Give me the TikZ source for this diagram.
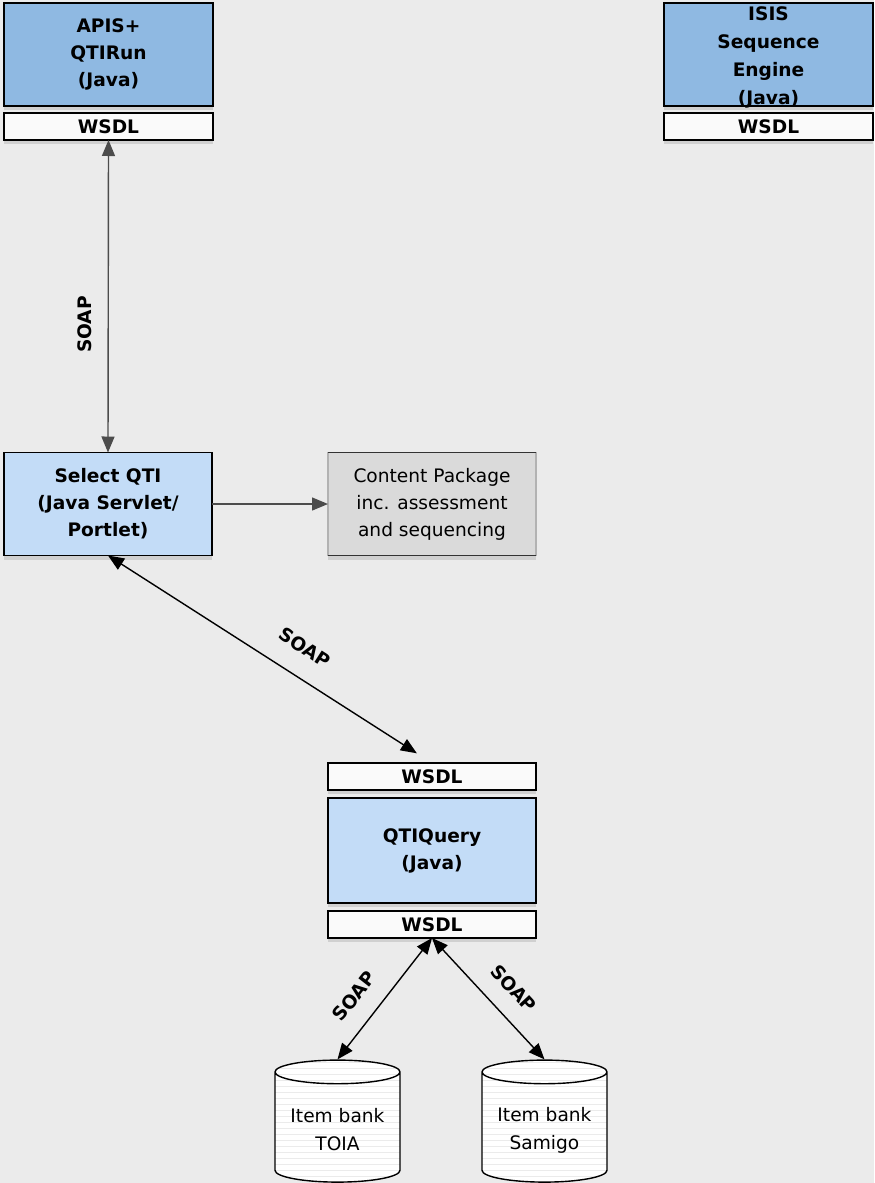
\documentclass[tikz,border=0pt]{standalone}
\usepackage{fontspec}
\setsansfont{DejaVu Sans}
\usetikzlibrary{arrows.meta,positioning,shapes.geometric,shadows,patterns}
\definecolor{bgGray}{HTML}{EBEBEB}
\definecolor{runBlue}{HTML}{8FB9E2}
\definecolor{paleBlue}{HTML}{C3DCF7}
\definecolor{pkgGray}{HTML}{DADADA}
\tikzset{%
  >={Triangle[width=6.5pt,length=8pt]},
  % Specifications for style of nodes:
          base/.style = {rectangle, draw=black, line width=0.8pt,
                         inner sep=0pt, outer sep=0pt,
                         minimum width=104.5pt, align=center,
                         font=\sffamily\bfseries\fontsize{9.3}{13.5}\selectfont,
                         drop shadow={shadow xshift=0pt, shadow yshift=-2pt, opacity=0.25}},
       service/.style = {base, minimum height=51.5pt, fill=runBlue},
        client/.style = {base, minimum height=51.5pt, minimum width=104pt, fill=paleBlue},
          wsdl/.style = {base, minimum height=13.5pt, fill=white!96!gray},
       package/.style = {base, minimum height=51.5pt, minimum width=104pt, fill=pkgGray,
                         draw=black!30, font=\sffamily\fontsize{9.3}{13.5}\selectfont},
      itembank/.style = {cylinder, shape border rotate=90, aspect=0.22, draw=black,
                         line width=0.7pt, minimum width=62.5pt, minimum height=61pt,
                         align=center, preaction={fill=white}, pattern=horizontal lines,
                         pattern color=black!8, font=\sffamily\fontsize{9.3}{14}\selectfont},
          soap/.style = {font=\sffamily\bfseries\fontsize{9.3}{11}\selectfont, inner sep=8pt},
}
\begin{document}
\begin{tikzpicture}[x=0.5pt, y=-0.5pt, line width=0.7pt]

    \fill [bgGray] (0,0) rectangle (874,1183);
    \useasboundingbox (0,0) rectangle (874,1183);

    \node (apis) [service] at (108.5,54.5) {APIS+\\QTIRun\\(Java)};
    \node (apiswsdl) [wsdl, below=3.5pt of apis] {WSDL};

    \node (isis) [service] at (768.5,54.5) {};
    \node (isistext) [font=\sffamily\bfseries\fontsize{9.3}{14}\selectfont, align=center, yshift=-1.5pt] at (isis.center) {ISIS\\Sequence\\Engine\\(Java)};
    \node (isiswsdl) [wsdl, below=3.5pt of isis] {WSDL};

    \node (select) [client] at (108,504) {Select QTI\\(Java Servlet/\\Portlet)};
    \node (package) [package, right=58pt of select] {Content Package\\inc. assessment\\and sequencing};
    \draw [black!80, line width=0.9pt] (package.north west) -- (package.north east);
    \draw [black!80, line width=0.9pt] (package.south west) -- (package.south east);

    \node (qtiquery) [client, minimum height=52.5pt] at (432,850.5) {QTIQuery\\(Java)};
    \node (querywsdlin) [wsdl, minimum width=104pt, above=4pt of qtiquery] {WSDL};
    \node (querywsdlout) [wsdl, minimum width=104pt, below=4pt of qtiquery] {WSDL};

    \node (toia) [itembank] at (337.5,1130) {Item bank\\TOIA};
    \node (samigo) [itembank] at (544.5,1130) {Item bank\\Samigo};

    \draw [<->, black!70] (select.north) -- node [soap, black, sloped, above, pos=0.41] {SOAP} (apiswsdl.south);
    \draw [->, black!70] (select) -- (package);
    \draw [<->, shorten >=9pt] (select.south) -- node [soap, sloped, above, pos=0.56, inner sep=10.5pt] {SOAP} (querywsdlin.north);
    \draw [<->] (toia.north) -- node [soap, sloped, above, pos=0.39, inner sep=9pt] {SOAP} (querywsdlout.south);
    \draw [<->] (querywsdlout.south) -- node [soap, sloped, above, pos=0.56, inner sep=9pt] {SOAP} (samigo.north);
\end{tikzpicture}
\end{document}
